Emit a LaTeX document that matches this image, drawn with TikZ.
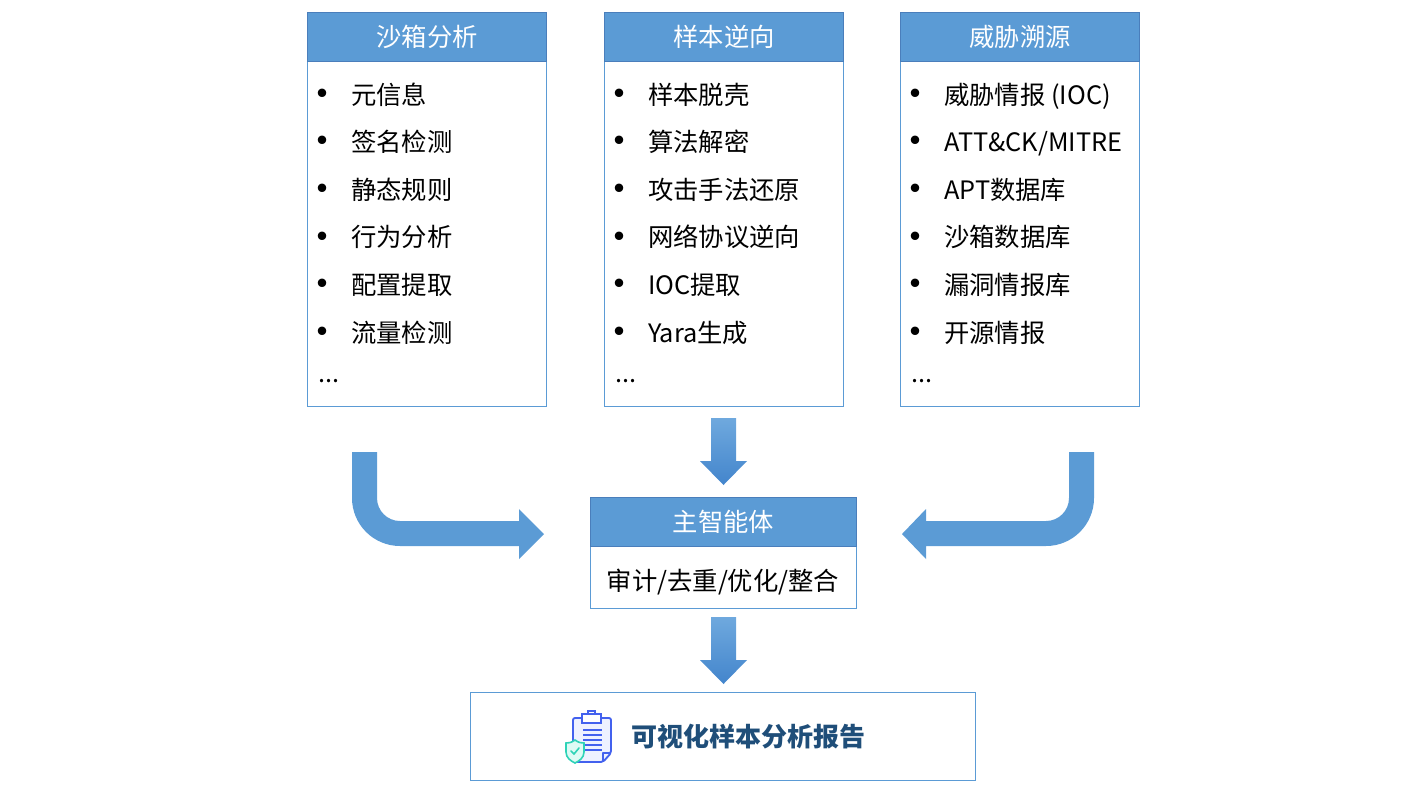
\documentclass[tikz,border=0pt]{standalone}
\usepackage{fontspec}
\setmainfont{Noto Sans CJK SC}
\usetikzlibrary{positioning}
\definecolor{hdblue}{HTML}{5B9BD5}
\definecolor{hdline}{HTML}{4A7EBB}
\definecolor{arrtop}{HTML}{6FA9DE}
\definecolor{arrbot}{HTML}{4385CC}
\definecolor{titleblue}{HTML}{1F4E79}
\definecolor{iconblue}{HTML}{4361EE}
\definecolor{iconfill}{HTML}{EEF1FF}
\definecolor{iconteal}{HTML}{2ED3B7}
\definecolor{shieldfill}{HTML}{DDFBF5}

\begin{document}
\begin{tikzpicture}[x=0.75pt,y=-0.75pt,
  headbox/.style={fill=hdblue,draw=hdline,line width=0.75pt,text=white,inner sep=0pt,
    anchor=north west,minimum height=49*0.75pt,font=\fontsize{19}{19}\selectfont},
  itemtext/.style={anchor=base west,inner sep=0pt,font=\fontsize{19}{19}\selectfont},
  dotmark/.style={anchor=center,inner sep=0pt,font=\fontsize{30}{30}\selectfont},
  bodybox/.style={draw=hdblue,line width=0.75pt},
  downarrow/.style={top color=arrtop,bottom color=arrbot,draw=none},
  iconline/.style={draw=iconblue,line width=1.4pt}]

\useasboundingbox (0,0) rectangle (1403,790);

% three source columns
\foreach \cx/\cname/\clist [count=\k] in
  {307/沙箱分析/{元信息,签名检测,静态规则,行为分析,配置提取,流量检测},
   604/样本逆向/{样本脱壳,算法解密,攻击手法还原,网络协议逆向,IOC提取,Yara生成},
   900/威胁溯源/{威胁情报 (IOC),ATT\&CK/MITRE,APT数据库,沙箱数据库,漏洞情报库,开源情报}}{
  \draw[bodybox] (\cx,61) rectangle (\cx+239,406);
  \node[headbox,minimum width=239*0.75pt] (h\k) at (\cx,12) {\cname};
  \foreach \t [count=\i from 0] in \clist {
    \node[dotmark] (b\k-\i) at (\cx+15,98.5+47.6*\i) {•};
    \node[itemtext] (t\k-\i) at (\cx+44,104+47.6*\i) {\t};
  }
  \node[itemtext] (e\k) at (\cx+11,382) {...};
}

% bent arrows left and right
\fill[hdblue] (352,452) -- (377,452) -- (377,498) arc[start angle=180,end angle=90,radius=23]
  -- (519,521) -- (519,509) -- (544,534) -- (519,559) -- (519,546) -- (400,546)
  arc[start angle=90,end angle=180,radius=48] -- cycle;
\fill[hdblue] (1094,452) -- (1094,498) arc[start angle=0,end angle=90,radius=48]
  -- (926,546) -- (926,559) -- (902,534) -- (926,509) -- (926,521) -- (1046,521)
  arc[start angle=90,end angle=0,radius=23] -- (1069,452) -- cycle;

% down arrows
\foreach \ay in {418,617}
  \shade[downarrow] (711,\ay) -- (736,\ay) -- (736,\ay+43) -- (747,\ay+43)
    -- (723.5,\ay+67) -- (700,\ay+43) -- (711,\ay+43) -- cycle;

% main agent
\draw[bodybox] (590,546) rectangle (856,608);
\node[headbox,minimum width=266*0.75pt] (hm) at (590,497) {主智能体};
\node[itemtext,anchor=base] (mt) at (723,590) {审计/去重/优化/整合};

% report
\draw[bodybox] (470,692) rectangle (975,780);
\filldraw[iconline,fill=iconfill,rounded corners=1.5pt] (573,718) -- (611,718) -- (611,753)
  -- (603,762) -- (573,762) -- cycle;
\draw[iconline,line join=round] (611,753) -- (603,753) -- (603,762);
\filldraw[iconline,fill=white] (582,714) rectangle (601,723);
\draw[iconline] (588,714) -- (588,711) -- (595,711) -- (595,714);
\foreach \ly in {730,735,740,745,750}
  \draw[iconline,line width=1pt] (583,\ly) -- (602,\ly);
\filldraw[draw=iconteal,fill=shieldfill,line width=1.2pt] (575,740)
  .. controls (571,743) and (568,743) .. (566,743) -- (566,752)
  .. controls (566,758) and (571,761) .. (575,763)
  .. controls (579,761) and (584,758) .. (584,752) -- (584,743)
  .. controls (582,743) and (579,743) .. (575,740) -- cycle;
\draw[iconteal,line width=1.2pt,line cap=round] (571,751) -- (574,754) -- (579,748);
\node[anchor=base west,inner sep=0pt,text=titleblue,
  font=\fontsize{19.5}{19.5}\selectfont\bfseries] (rt) at (631,746) {可视化样本分析报告};
\end{tikzpicture}
\end{document}
